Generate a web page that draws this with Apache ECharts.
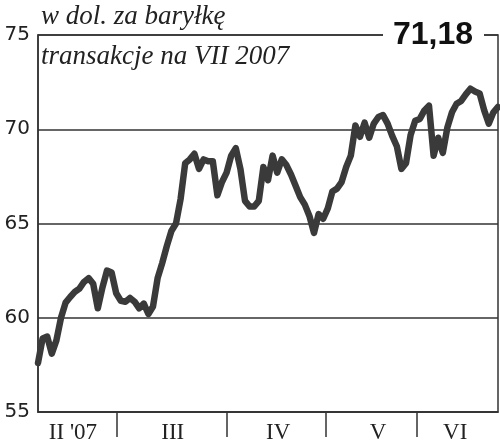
<!DOCTYPE html>
<html>
<head>
<meta charset="utf-8">
<script src="https://cdn.jsdelivr.net/npm/echarts@6/dist/echarts.min.js"></script>
<style>
html,body{margin:0;padding:0;background:#fff;}
#chart{width:500px;height:445px;}
</style>
</head>
<body>
<div id="chart"></div>
<script>
// Brent price, USD per barrel, one point per session (index axis)
const prices = [
  57.6, 58.9, 59.0, 58.1, 58.8, 60.0, 60.8, 61.1, 61.37, 61.55,
  61.9, 62.1, 61.8, 60.5, 61.6, 62.5, 62.4, 61.3, 60.9, 60.85,
  61.05, 60.85, 60.5, 60.75, 60.2, 60.6, 62.1, 62.9, 63.8, 64.6,
  65.0, 66.3, 68.2, 68.4, 68.7, 67.9, 68.4, 68.3, 68.3, 66.5,
  67.2, 67.7, 68.6, 69.0, 67.9, 66.2, 65.9, 65.9, 66.2, 68.0,
  67.3, 68.6, 67.7, 68.4, 68.1, 67.6, 67.0, 66.4, 66.0, 65.4,
  64.5, 65.5, 65.25, 65.8, 66.7, 66.85, 67.2, 68.0, 68.6, 70.2,
  69.6, 70.35, 69.55, 70.3, 70.65, 70.75, 70.3, 69.65, 69.1, 67.9,
  68.2, 69.7, 70.45, 70.55, 71.0, 71.25, 68.6, 69.55, 68.75, 70.1,
  70.9, 71.35, 71.5, 71.85, 72.15, 72.0, 71.9, 71.0, 70.3, 70.9,
  71.18
];
const monthLabels = ["II '07", "III", "IV", "V", "VI"];
const monthBoundaries = [17.2, 41.1, 62.6, 82.4];   // session index where month changes
const monthLabelPos = [7.6, 29.3, 52.2, 73.9, 90.7];
const yMin = 55, yMax = 75, yStep = 5;
const unitLine = "w dol. za baryłkę";
const subtitle = "transakcje na VII 2007";
const lastValue = "71,18";

const chart = echarts.init(document.getElementById('chart'), null, {renderer: 'canvas'});
const frame = '#333';
chart.setOption({
  animation: false,
  backgroundColor: '#fff',
  grid: {left: 38, right: 2, top: 35, bottom: 33, show: true, borderColor: frame, borderWidth: 1.5, containLabel: false},
  xAxis: {
    type: 'value', min: 0, max: prices.length - 1,
    axisLine: {show: true, lineStyle: {color: frame, width: 1.5}},
    splitLine: {show: false},
    axisTick: {show: true, customValues: monthBoundaries, length: 25, inside: false, lineStyle: {color: frame, width: 1.5}},
    axisLabel: {
      show: true, customValues: monthLabelPos, margin: 9,
      fontFamily: 'Liberation Serif', fontSize: 23, color: '#222',
      formatter: function (v) {
        let best = 0;
        for (let i = 1; i < monthLabelPos.length; i++) {
          if (Math.abs(monthLabelPos[i] - v) < Math.abs(monthLabelPos[best] - v)) best = i;
        }
        return monthLabels[best];
      }
    }
  },
  yAxis: {
    type: 'value', min: yMin, max: yMax, interval: yStep,
    axisLine: {show: true, lineStyle: {color: frame, width: 1.5}},
    axisTick: {show: false},
    splitLine: {show: true, lineStyle: {color: frame, width: 1.5}},
    axisLabel: {margin: 8, fontFamily: 'DejaVu Sans', fontSize: 20, color: '#222'}
  },
  series: [{
    type: 'line',
    data: prices.map((v, i) => [i, v]),
    symbol: 'none',
    lineStyle: {color: '#3a3a3a', width: 6.5, join: 'round', cap: 'round'},
    z: 3
  }],
  graphic: [
    {type: 'text', left: 41, top: 3, z: 10,
     style: {text: unitLine, font: 'italic 27px "Liberation Serif"', fill: '#222'}},
    {type: 'text', left: 41, top: 43, z: 10,
     style: {text: subtitle, font: 'italic 27px "Liberation Serif"', fill: '#222'}},
    {type: 'rect', shape: {x: 383, y: 18, width: 101, height: 34}, style: {fill: '#fff'}, z: 9},
    {type: 'text', x: 433, y: 35, z: 10,
     style: {text: lastValue, font: 'bold 32px "Liberation Sans"', fill: '#111', align: 'center', verticalAlign: 'middle'}}
  ]
});
</script>
</body>
</html>
